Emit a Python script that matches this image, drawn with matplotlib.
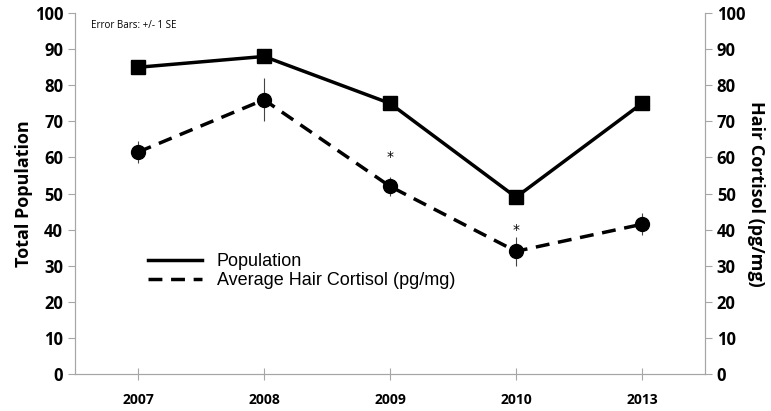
import matplotlib.pyplot as plt
from matplotlib.lines import Line2D
import numpy as np

years = ['2007', '2008', '2009', '2010', '2013']
population = [85, 88, 75, 49, 75]
cortisol = [61.5, 76, 52, 34, 41.5]
cortisol_se = [3, 6, 2.7, 4, 3]
star_years = [2, 3]
star_heights = [60, 40]

x = np.arange(len(years))
gray = '#a6a6a6'
dash = (0, (4, 2.5))

fig = plt.figure(figsize=(7.71, 4.11), dpi=100)
ax = fig.add_axes([0.0973, 0.090, 0.8171, 0.878])
ax2 = ax.twinx()

ax.plot(x, population, color='black', lw=2.5, marker='s', ms=10)
ax.errorbar(x, cortisol, yerr=cortisol_se, color='black', lw=2.5, ls=dash,
            marker='o', ms=10, ecolor='#444444', elinewidth=0.8, capsize=0)
for i, h in zip(star_years, star_heights):
    ax.text(x[i], h, '*', ha='center', va='center', fontsize=10)

for a in (ax, ax2):
    a.set_ylim(0, 100)
    a.set_yticks(range(0, 101, 10))
    a.spines['top'].set_visible(False)
    for s in ('left', 'right', 'bottom'):
        a.spines[s].set_color(gray)
    a.tick_params(axis='y', colors=gray, length=5, labelcolor='black', labelsize=12)
    for lab in a.get_yticklabels():
        lab.set_fontweight('bold')
        lab.set_family('Open Sans')

ax.set_xlim(-0.5, 4.5)
ax.set_xticks(x)
ax.set_xticklabels(years, fontweight='bold', family='Open Sans', fontsize=10)
ax.tick_params(axis='x', direction='inout', length=8, colors=gray, labelcolor='black', pad=10)

ax.set_ylabel('Total Population', fontweight='bold', family='Open Sans', fontsize=13, labelpad=1)
ax2.set_ylabel('Hair Cortisol (pg/mg)', fontweight='bold', family='Open Sans', fontsize=13,
               rotation=270, labelpad=14)

ax.text(0.025, 0.98, 'Error Bars: +/- 1 SE', transform=ax.transAxes, fontsize=7,
        family='Open Sans', va='top')

handles = [Line2D([], [], color='black', lw=2.5),
           Line2D([], [], color='black', lw=2.5, ls=dash)]
ax.legend(handles, ['Population', 'Average Hair Cortisol (pg/mg)'],
          loc='upper left', bbox_to_anchor=(0.09, 0.38), frameon=False,
          prop={'family': 'Liberation Sans', 'size': 13}, handlelength=3.0,
          labelspacing=0.1, handletextpad=0.8)

fig.savefig('out.png', dpi=100)
